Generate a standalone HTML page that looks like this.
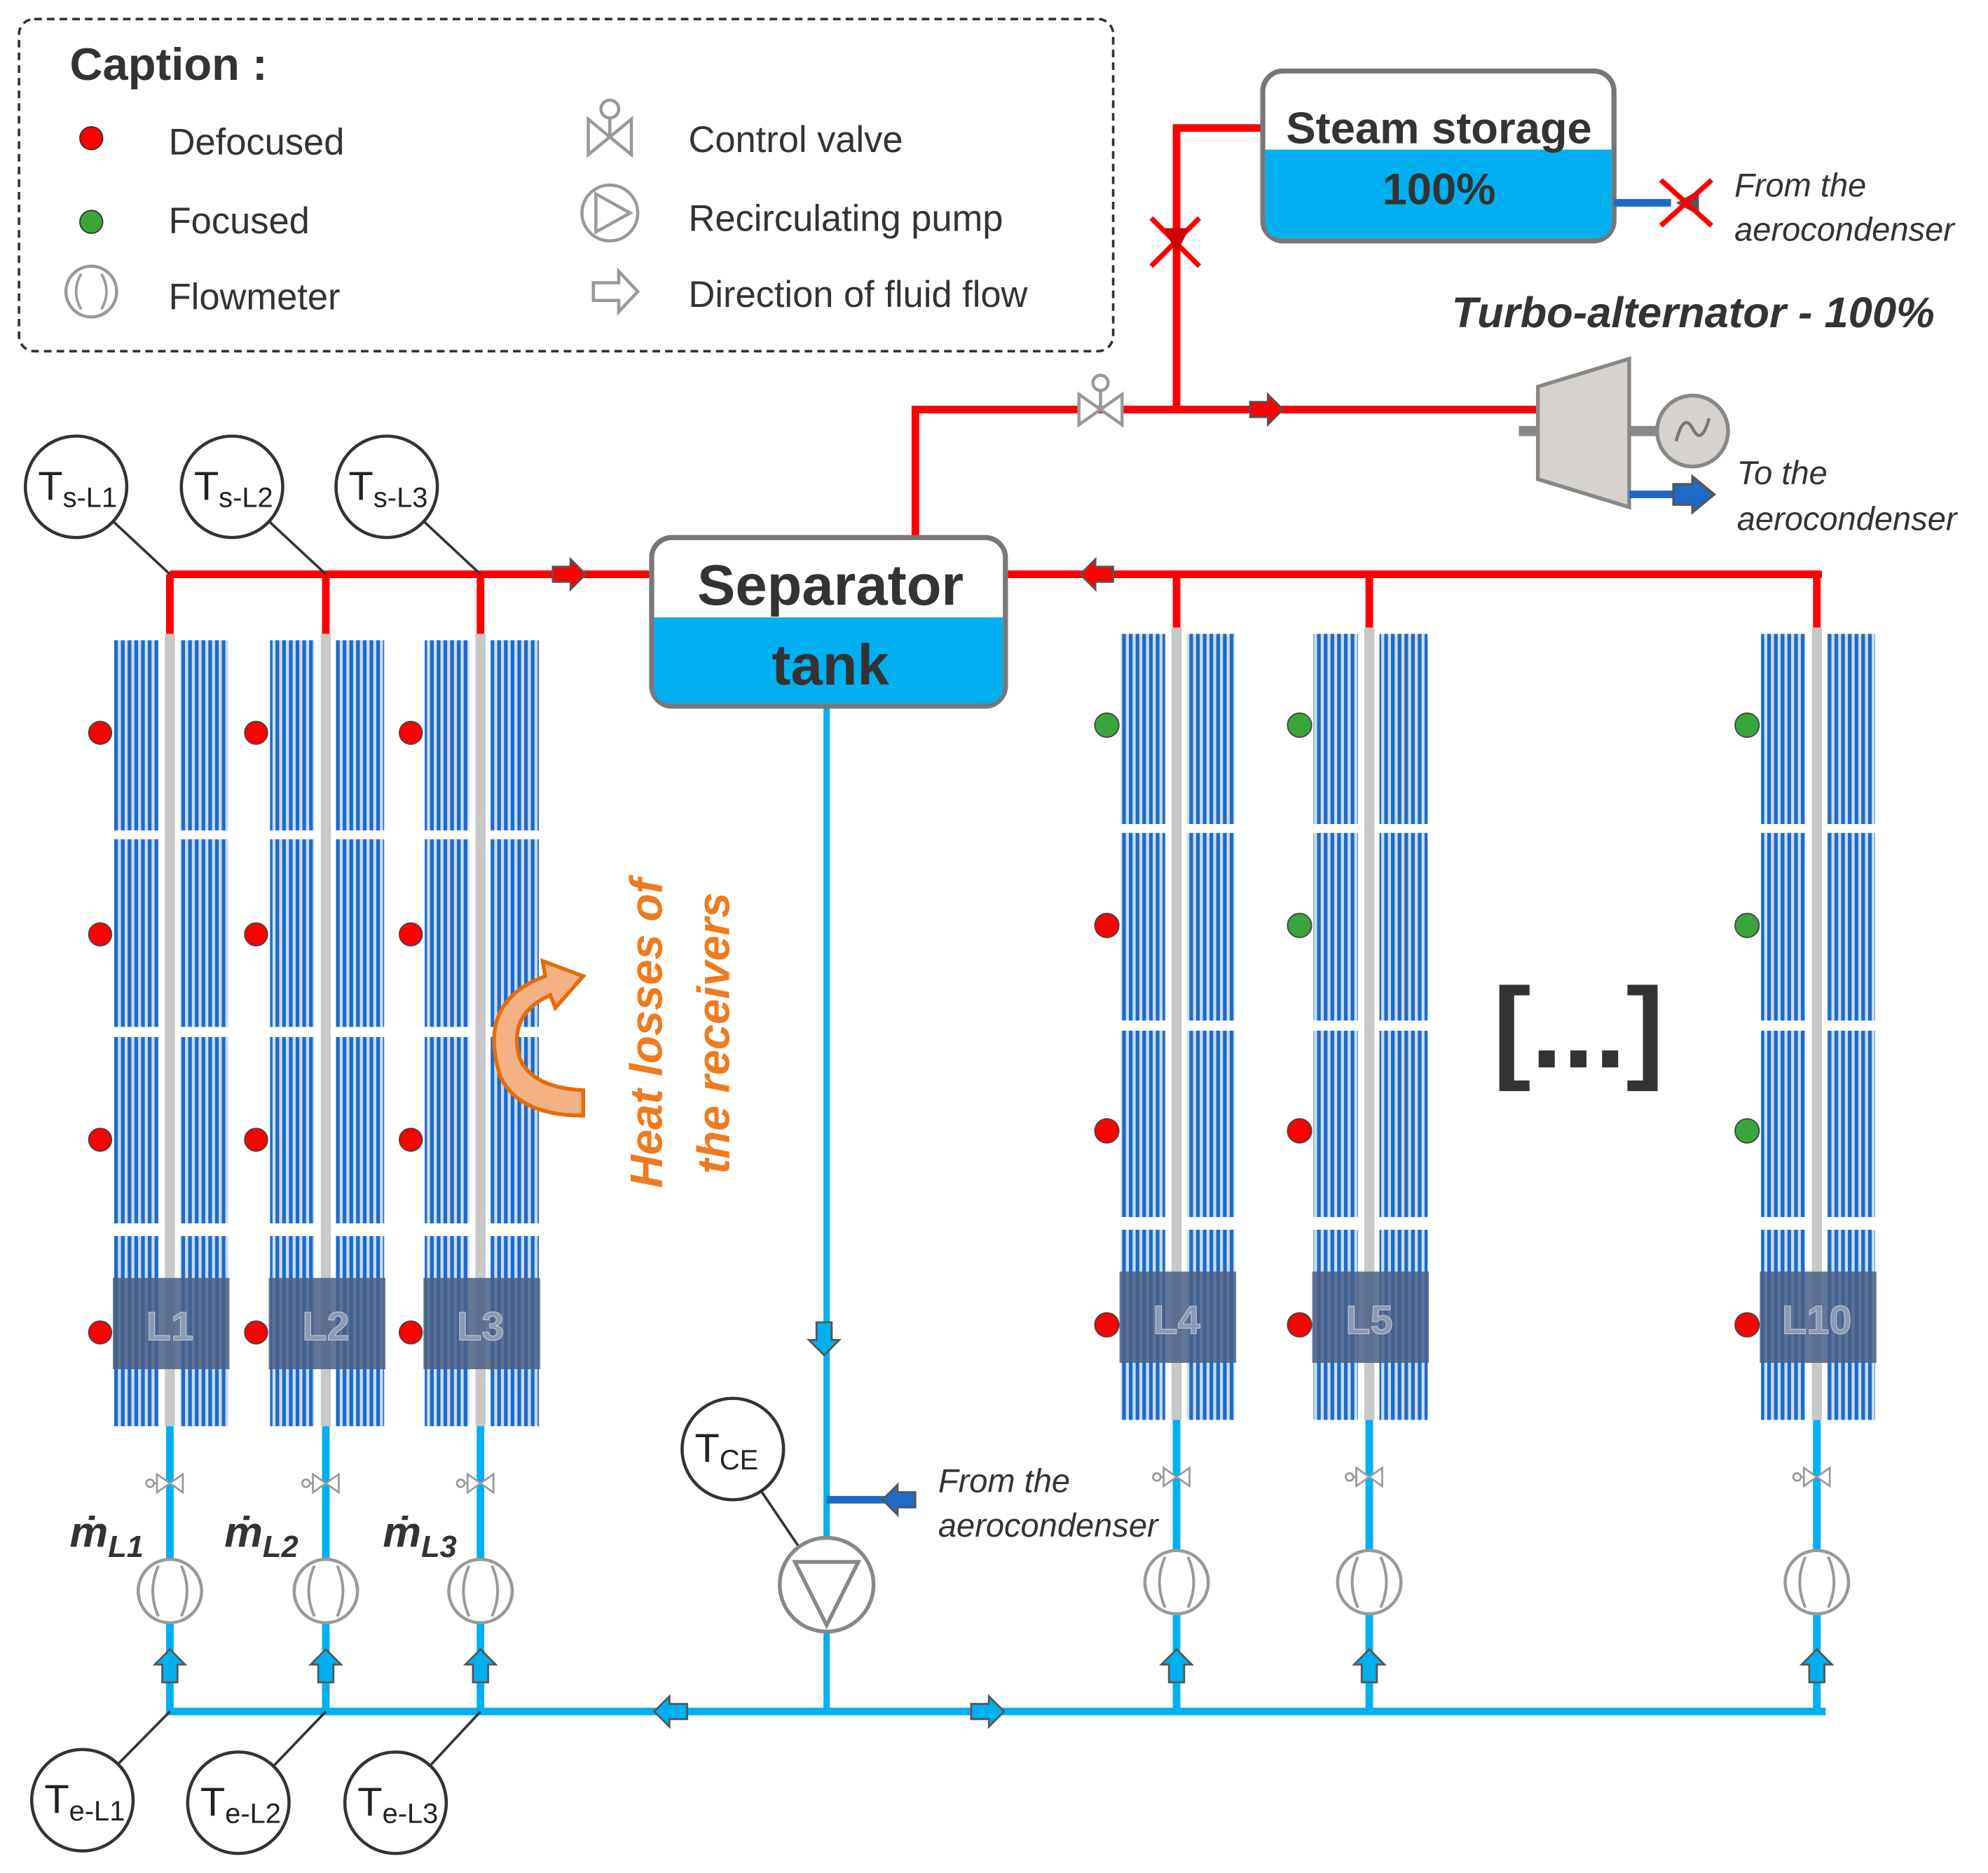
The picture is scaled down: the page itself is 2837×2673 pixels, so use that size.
<!DOCTYPE html>
<html><head><meta charset="utf-8"><style>
html,body{margin:0;padding:0;background:#fff}
svg{display:block}
text{font-family:"Liberation Sans",sans-serif}
</style></head><body>
<svg id="s" width="2837" height="2673" viewBox="0 0 1568 1477.4" preserveAspectRatio="none" xmlns="http://www.w3.org/2000/svg">
<defs>
<pattern id="st" width="5.3" height="10" patternUnits="userSpaceOnUse">
<rect width="5.3" height="10" fill="#c9dcf2"/><rect x="0" width="2.9" height="10" fill="#1e6ac8"/>
</pattern>
</defs>
<rect width="1568" height="1478" fill="#fff"/>
<!-- Legend -->
<rect x="15" y="15" width="863" height="262" rx="12" fill="none" stroke="#333" stroke-width="2" stroke-dasharray="6,4"/>
<text x="55" y="63" font-size="36" font-weight="bold" fill="#333">Caption :</text>
<circle cx="72" cy="109" r="9" fill="#f00" stroke="#333" stroke-width="1"/>
<text x="133" y="122" font-size="29" fill="#333">Defocused</text>
<circle cx="72" cy="175" r="9" fill="#3aa53a" stroke="#333" stroke-width="1"/>
<text x="133" y="184" font-size="29" fill="#333">Focused</text>
<circle cx="72" cy="230" r="20" fill="#fff" stroke="#999" stroke-width="2.5"/>
<path d="M64 216 Q56 230 64 244 M80 216 Q88 230 80 244" fill="none" stroke="#999" stroke-width="2"/>
<text x="133" y="244" font-size="29" fill="#333">Flowmeter</text>
<g stroke="#999" stroke-width="2.5" fill="#fff">
<circle cx="481" cy="86" r="7"/><line x1="481" y1="93" x2="481" y2="108"/>
<path d="M464 94 L498 122 L498 94 L464 122 Z"/>
<circle cx="481" cy="168" r="22"/><path d="M470 153 L497 168 L470 183 Z"/>
<path d="M468 223 L488 223 L488 214 L503 230 L488 246 L488 237 L468 237 Z"/>
</g>
<text x="543" y="120" font-size="29" fill="#333">Control valve</text>
<text x="543" y="182" font-size="29" fill="#333">Recirculating pump</text>
<text x="543" y="242" font-size="29" fill="#333">Direction of fluid flow</text>

<g id="main"></g>

<!-- Steam storage -->
<rect x="996" y="56" width="277" height="134" rx="16" fill="#fff" stroke="#777" stroke-width="4"/>
<path d="M998 118 H1271 V174 Q1271 188 1257 188 H1012 Q998 188 998 174 Z" fill="#00b0f0"/>
<text x="1135" y="113" font-size="35" font-weight="bold" fill="#333" text-anchor="middle">Steam storage</text>
<text x="1135" y="161" font-size="35" font-weight="bold" fill="#333" text-anchor="middle">100%</text>
<line x1="1273" y1="160" x2="1318" y2="160" stroke="#1e6ac8" stroke-width="6"/>
<path d="M1340 150 L1322 160 L1340 170 Z" fill="#555"/>
<path d="M1310 142 L1350 178 M1350 142 L1310 178" stroke="#f00" stroke-width="4"/>
<text x="1368" y="155" font-size="26" font-style="italic" fill="#333">From the</text>
<text x="1368" y="190" font-size="26" font-style="italic" fill="#333">aerocondenser</text>
<text x="1145" y="258" font-size="34" font-weight="bold" font-style="italic" fill="#333">Turbo-alternator - 100%</text>

<!-- Separator tank -->
<rect x="514" y="424" width="279" height="133" rx="16" fill="#fff" stroke="#777" stroke-width="4"/>
<path d="M516 487 H791 V541 Q791 555 777 555 H530 Q516 555 516 541 Z" fill="#00b0f0"/>
<text x="655" y="477" font-size="45" font-weight="bold" fill="#333" text-anchor="middle">Separator</text>
<text x="655" y="540" font-size="45" font-weight="bold" fill="#333" text-anchor="middle">tank</text>

<!-- turbine -->
<line x1="1198" y1="340" x2="1215" y2="340" stroke="#888" stroke-width="8"/>
<line x1="1285" y1="340" x2="1308" y2="340" stroke="#888" stroke-width="8"/>
<path d="M1213 305 L1285 283 L1285 400 L1213 378 Z" fill="#d6d3cf" stroke="#888" stroke-width="3"/>
<circle cx="1335" cy="340" r="28" fill="#d6d3cf" stroke="#888" stroke-width="3"/>
<path d="M1322 348 Q1328 325 1335 338 Q1342 352 1348 330" fill="none" stroke="#777" stroke-width="2.5"/>
<line x1="1285" y1="390" x2="1330" y2="390" stroke="#1e6ac8" stroke-width="6"/>
<path d="M1320 382 L1335 382 L1335 376 L1352 390 L1335 404 L1335 398 L1320 398 Z" fill="#1e6ac8" stroke="#555" stroke-width="2"/>
<text x="1370" y="382" font-size="26" font-style="italic" fill="#333">To the</text>
<text x="1370" y="418" font-size="26" font-style="italic" fill="#333">aerocondenser</text>

<!-- heat losses -->
<path d="M395 850 Q375 790 430 770 L428 758 L460 770 L438 795 L434 785 Q400 800 410 835 Q420 858 460 860 L460 880 Q410 880 395 850 Z" fill="#f4b183" stroke="#e46c0a" stroke-width="3"/>
<text transform="translate(522,815) rotate(-90)" font-size="36" font-weight="bold" font-style="italic" fill="#f07a1e" text-anchor="middle">Heat losses of</text>
<text transform="translate(575,815) rotate(-90)" font-size="36" font-weight="bold" font-style="italic" fill="#f07a1e" text-anchor="middle">the receivers</text>
<text x="1245" y="842" font-size="90" font-weight="bold" fill="#333" text-anchor="middle">[...]</text>

<!-- pump -->
<circle cx="652" cy="1250" r="37" fill="#fff" stroke="#888" stroke-width="3"/>
<path d="M627 1232 L677 1232 L652 1282 Z" fill="none" stroke="#888" stroke-width="3"/>
<text x="740" y="1177" font-size="26" font-style="italic" fill="#333">From the</text>
<text x="740" y="1212" font-size="26" font-style="italic" fill="#333">aerocondenser</text>
</svg>
<script>
const NS="http://www.w3.org/2000/svg",g=document.getElementById('main');
function el(t,a,p){const e=document.createElementNS(NS,t);for(const k in a)e.setAttribute(k,a[k]);(p||g).appendChild(e);return e;}
function ln(x1,y1,x2,y2,c,w){el('line',{x1,y1,x2,y2,stroke:c,'stroke-width':w||6});}
const R='#f00',B='#00b0f0';
ln(134,453,512,453,R);ln(795,453,1437,453,R);
ln(722,423,722,323,R);ln(719,323,1213,323,R);ln(928,323,928,101,R);ln(925,101,996,101,R);
ln(652,557,652,1350,B,5);ln(131,1350,1440,1350,B,6);
ln(700,1183,652,1183,'#1e6ac8',6);
function arrow(x,y,dir,fill){
 const rot={r:0,l:180,u:-90,d:90}[dir];
 el('path',{d:'M-12 -6 H2 V-12 L14 0 L2 12 V6 H-12 Z',fill,stroke:'#555','stroke-width':1.5,transform:`translate(${x},${y}) rotate(${rot})`});
}
arrow(448,453,'r',R);arrow(866,453,'l',R);arrow(998,323,'r',R);
arrow(650,1055,'d',B);arrow(530,1350,'l',B);arrow(778,1350,'r',B);arrow(710,1183,'l','#1e6ac8');
function valve(x,y,s){
 const grp=el('g',{transform:`translate(${x},${y}) scale(${s||1})`,stroke:'#999','stroke-width':2.5,fill:'#fff'});
 el('path',{d:'M-17 -12 L17 12 L17 -12 L-17 12 Z'},grp);
 el('line',{x1:-17,y1:0,x2:-24,y2:0},grp);el('circle',{cx:-26,cy:0,r:5},grp);
}
function valveTop(x,y){
 const grp=el('g',{transform:`translate(${x},${y})`,stroke:'#999','stroke-width':2.5,fill:'#fff'});
 el('path',{d:'M-17 -12 L17 12 L17 -12 L-17 12 Z'},grp);
 el('line',{x1:0,y1:0,x2:0,y2:-16},grp);el('circle',{cx:0,cy:-21,r:6},grp);
}
valveTop(868,323);
el('path',{d:'M908 172 L946 210 M946 172 L908 210',stroke:R,'stroke-width':4});
el('path',{d:'M918 180 L938 180 L928 200 Z',fill:'#c00'});
const loops=[[134,505,'L1',['r','r','r','r']],[257,505,'L2',['r','r','r','r']],[379,505,'L3',['r','r','r','r']],
[928,500,'L4',['g','r','r','r']],[1080,500,'L5',['g','g','r','r']],[1433,500,'L10',['g','g','g','r']]];
loops.forEach(([x,top,lab,dots],i)=>{
 const right=i>=3;
 ln(x,453,x,top-5,R);
 const mods=[[0,150],[157,305],[313,460],[470,620]];
 mods.forEach(([a,b])=>{
  el('rect',{x:x-44,y:top+a,width:35,height:b-a,fill:'url(#st)'});
  el('rect',{x:x+8,y:top+a,width:38,height:b-a,fill:'url(#st)'});
 });
 el('rect',{x:x-4,y:top-5,width:8,height:625,fill:'#c8c8c8'});
 el('rect',{x:x-45,y:top+503,width:92,height:72,fill:'#4a5f85','fill-opacity':0.85});
 const t=el('text',{x:x,y:top+552,'font-size':32,'font-weight':'bold',fill:'#8d9ab3',stroke:'#c5ccd8','stroke-width':0.6,'text-anchor':'middle'});t.textContent=lab;
 const dx=x-55;
 const ys=right?[572,730,892,1045]:[578,737,899,1051];
 dots.forEach((d,k)=>el('circle',{cx:dx,cy:ys[k],r:right?9.5:9,fill:d=='r'?'#f00':'#3aa53a',stroke:'#444','stroke-width':1}));
 const bt=top+620;
 ln(x,bt,x,1350,B,6);
 const vy=right?1165:1170; valve(x,vy,0.6);
 const fy=right?1248:1255;
 el('circle',{cx:x,cy:fy,r:25,fill:'#fff',stroke:'#999','stroke-width':2.5});
 el('path',{d:`M${x-9} ${fy-20} Q${x-18} ${fy} ${x-9} ${fy+20} M${x+9} ${fy-20} Q${x+18} ${fy} ${x+9} ${fy+20}`,fill:'none',stroke:'#999','stroke-width':2.2});
 arrow(x,1315,'u',B);
});
[[55,'L1'],[177,'L2'],[302,'L3']].forEach(([x,l])=>{
 const t=el('text',{x,y:1220,'font-size':34,'font-weight':'bold','font-style':'italic','font-family':'Liberation Serif, serif',fill:'#333'});
 t.innerHTML=`ṁ<tspan font-size="24" dy="8">${l}</tspan>`;
});
function sensor(cx,cy,sub,lx,ly){
 ln(cx,cy,lx,ly,'#333',2);
 el('circle',{cx,cy,r:40,fill:'#fff',stroke:'#333','stroke-width':2.5});
 const t=el('text',{x:cx-30,y:cy+10,'font-size':32,fill:'#222','font-family':'Liberation Serif, serif'});
 t.innerHTML=`T<tspan font-size="22" dy="6">${sub}</tspan>`;
}
sensor(60,384,'s-L1',134,453);sensor(183,384,'s-L2',257,453);sensor(305,384,'s-L3',379,453);
sensor(65,1420,'e-L1',134,1350);sensor(188,1422,'e-L2',257,1350);sensor(312,1422,'e-L3',379,1350);
sensor(578,1143,'CE',630,1220);
</script>
</body></html>
